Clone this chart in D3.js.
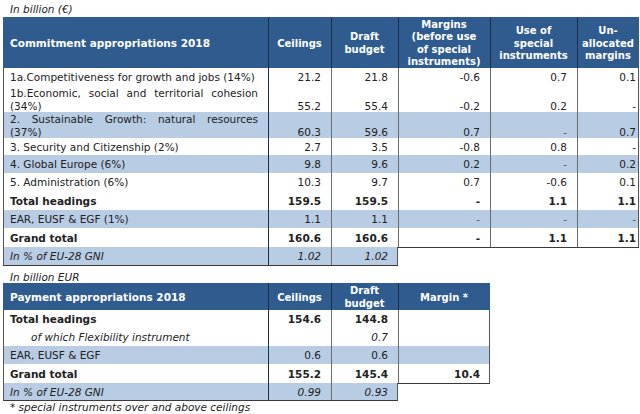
<!DOCTYPE html>
<html><head><meta charset="utf-8">
<script src="https://cdn.jsdelivr.net/npm/d3@7/dist/d3.min.js"></script>
<style>
html,body{margin:0;padding:0;background:#fff;}
svg{display:block;font-family:"DejaVu Sans",Verdana,sans-serif;}
</style></head><body>
<svg id="c" width="640" height="414"></svg>
<script>
// ---------- DATA ----------
const commitHeaders = [["Commitment appropriations 2018"],["Ceilings"],["Draft","budget"],["Margins","(before use","of special","instruments)"],["Use of","special","instruments"],["Un-","allocated","margins"]];
const commitLabels = ["1a.Competitiveness for growth and jobs (14%)","1b.Economic, social and territorial cohesion (34%)","2. Sustainable Growth: natural resources (37%)","3. Security and Citizenship (2%)","4. Global Europe (6%)","5. Administration (6%)","Total headings","EAR, EUSF & EGF (1%)","Grand total","In % of EU-28 GNI"];
const commitCeilings = ["21.2","55.2","60.3","2.7","9.8","10.3","159.5","1.1","160.6","1.02"];
const commitDraft    = ["21.8","55.4","59.6","3.5","9.6","9.7","159.5","1.1","160.6","1.02"];
const commitMargins  = ["-0.6","-0.2","0.7","-0.8","0.2","0.7","-","-","-",null];
const commitSpecial  = ["0.7","0.2","-","0.8","-","-0.6","1.1","-","1.1",null];
const commitUnalloc  = ["0.1","-","0.7","-","0.2","0.1","1.1","-","1.1",null];

const payHeaders = [["Payment appropriations 2018"],["Ceilings"],["Draft","budget"],["Margin *"]];
const payLabels   = ["Total headings","of which Flexibility instrument","EAR, EUSF & EGF","Grand total","In % of EU-28 GNI"];
const payCeilings = ["154.6","","0.6","155.2","0.99"];
const payDraft    = ["144.8","0.7","0.6","145.4","0.93"];
const payMargin   = ["","","","10.4",null];

const unitTop = "In billion (€)";
const unitBottom = "In billion EUR";
const footnote = "* special instruments over and above ceilings";

// ---------- LAYOUT ----------
const svg = d3.select("#c");
const FS = 10.5, HFS = 10;
const BLUE = "#2f5b8f", LIGHT = "#b8cce4";
const colKeys = ["label","ceil","draft","marg","use","un"];
const colEdges = [3,268,331,398,490,577,639];
const xL = d3.scaleOrdinal().domain(colKeys).range(colEdges.slice(0,6));
const xR = d3.scaleOrdinal().domain(colKeys).range(colEdges.slice(1));
const padR = d3.scaleOrdinal().domain(colKeys).range([10,10,10,10,10,3]);

function drawTable(opts){
  const {top, headerH, headers, rowHeights, rowStyles, cols, ncols} = opts;
  const keys = colKeys.slice(0,ncols);
  const right = xR(keys[ncols-1]);
  const g = svg.append("g");
  // header
  g.append("rect").attr("x",xL("label")).attr("y",top).attr("width",right-xL("label")).attr("height",headerH).attr("fill",BLUE);
  const hdrLH = 12.4;
  keys.forEach((k,i)=>{
    const lines = headers[i];
    const cx = k==="label" ? xL(k)+7 : (xL(k)+xR(k))/2;
    const n = lines.length;
    const mid = top + headerH/2;
    lines.forEach((ln,j)=>{
      g.append("text").attr("x",cx).attr("y", mid + (j-(n-1)/2)*hdrLH + 4)
        .attr("text-anchor", k==="label"?"start":"middle")
        .attr("font-size",k==="label"?FS:HFS).attr("font-weight","bold").attr("fill","#fff").text(ln);
    });
  });
  // header vertical separators
  keys.slice(1).forEach(k=>{
    g.append("line").attr("x1",xL(k)+0.5).attr("x2",xL(k)+0.5).attr("y1",top).attr("y2",top+headerH).attr("stroke","#1c2f4a").attr("stroke-width",1);
  });
  // rows
  let y = top+headerH;
  rowHeights.forEach((h,ri)=>{
    const st = rowStyles[ri];
    const rkeys = st.short ? keys.slice(0,3) : keys;
    const rRight = xR(rkeys[rkeys.length-1]);
    g.append("rect").attr("x",xL("label")).attr("y",y).attr("width",rRight-xL("label")).attr("height",h).attr("fill",st.light?LIGHT:"#fff");
    const label = cols[0][ri];
    const lx = xL("label")+7+(st.indent||0);
    const baseLast = y + h/2 + 4 + (st.two? 6.5:0);
    const fw = st.bold?"bold":"normal", fsy = st.italic?"italic":"normal";
    if(st.two){
      const words = label.split(" ");
      const last = words.pop();
      const lineW = xR("label")-10-lx;
      const tmp = words.map(w=>{
        const t = g.append("text").attr("font-size",FS).attr("font-weight",fw).attr("font-style",fsy).attr("fill","#222").text(w);
        return {t, w:t.node().getComputedTextLength()};
      });
      const tot = d3.sum(tmp,d=>d.w);
      const gap = (lineW - tot)/(tmp.length-1);
      let cx = lx;
      tmp.forEach(d=>{ d.t.attr("x",cx).attr("y",baseLast-12.5); cx += d.w+gap; });
      g.append("text").attr("x",lx).attr("y",baseLast).attr("font-size",FS).attr("fill","#222").text(last);
    } else {
      g.append("text").attr("x",lx).attr("y",baseLast).attr("font-size",FS).attr("font-weight",fw).attr("font-style",fsy).attr("fill","#222").text(label);
    }
    rkeys.slice(1).forEach((k,ci)=>{
      const v = cols[ci+1][ri];
      if(v===null||v===undefined||v==="") return;
      const isDash = v==="-";
      g.append("text").attr("x",xR(k)-padR(k)).attr("y",baseLast).attr("text-anchor","end")
        .attr("font-size",FS).attr("font-weight",fw).attr("font-style",fsy)
        .attr("fill", isDash && st.light ? "#555" : "#222").text(v);
    });
    rkeys.slice(1).forEach((k,ci)=>{
      g.append("line").attr("x1",xL(k)+0.5).attr("x2",xL(k)+0.5).attr("y1",y).attr("y2",y+h)
        .attr("stroke", ci===0?"#1c2f4a":"#6b6b6b").attr("stroke-width",1);
    });
    g.append("line").attr("x1",xL("label")+0.5).attr("x2",xL("label")+0.5).attr("y1",y).attr("y2",y+h).attr("stroke","#555");
    g.append("line").attr("x1",rRight-0.5).attr("x2",rRight-0.5).attr("y1",y).attr("y2",y+h).attr("stroke","#555");
    if(!st.noBottom){
      g.append("line").attr("x1",xL("label")).attr("x2",rRight).attr("y1",y+h+0.5).attr("y2",y+h+0.5)
        .attr("stroke","#3a3a3a").attr("stroke-width",1);
    }
    y += h;
  });
}

svg.append("text").attr("x",10).attr("y",13).attr("font-size",FS).attr("font-style","italic").attr("fill","#222").text(unitTop);

drawTable({
  top:17, headerH:51, headers:commitHeaders, ncols:6,
  rowHeights:[18,26,26,17,18,18,19,18,19,18],
  rowStyles:[
    {noBottom:true},{two:true},{two:true,light:true},{},{light:true},{},{bold:true},{light:true},{bold:true},{light:true,italic:true,short:true}
  ],
  cols:[commitLabels,commitCeilings,commitDraft,commitMargins,commitSpecial,commitUnalloc]
});

svg.append("text").attr("x",10).attr("y",281).attr("font-size",FS).attr("font-style","italic").attr("fill","#222").text(unitBottom);

drawTable({
  top:283, headerH:27, headers:payHeaders, ncols:4,
  rowHeights:[18,18,18,19,17],
  rowStyles:[{bold:true},{italic:true,indent:21},{light:true},{bold:true},{light:true,italic:true,short:true}],
  cols:[payLabels,payCeilings,payDraft,payMargin]
});

svg.append("text").attr("x",10).attr("y",411).attr("font-size",FS).attr("font-style","italic").attr("fill","#222").text(footnote);
</script>
</body></html>
